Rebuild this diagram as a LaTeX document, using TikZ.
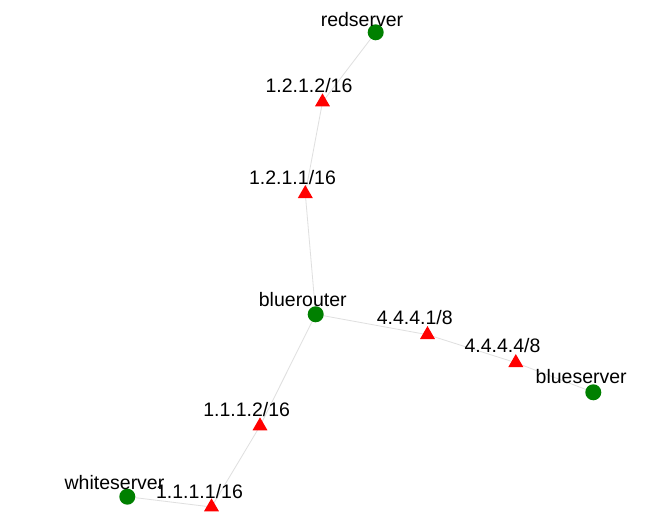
\documentclass[tikz,border=0pt]{standalone}
\usepackage{fontspec}
\setmainfont{Liberation Sans}
\usetikzlibrary{shapes.geometric,backgrounds}

\begin{document}
\begin{tikzpicture}[x=1pt,y=-1pt,
  host/.style={circle,fill=green!50!black,minimum size=16pt,inner sep=0pt},
  iface/.style={regular polygon,regular polygon sides=3,fill=red,minimum size=17.3pt,inner sep=0pt},
  lbl/.style={anchor=base,inner sep=0pt,font=\fontsize{19.5}{22}\selectfont},
  link/.style={draw=gray!25,line width=0.8pt}]

  \useasboundingbox (0,0) rectangle (665,526);

  % hosts
  \node[host] (rs) at (375.7,32.3) {};
  \node[host] (br) at (315.7,314.3) {};
  \node[host] (bs) at (593.3,392.3) {};
  \node[host] (ws) at (127.3,496.7) {};

  % interfaces
  \node[iface] (i1212) at (322.5,102) {};
  \node[iface] (i1211) at (305.3,193.7) {};
  \node[iface] (i1112) at (260,426) {};
  \node[iface] (i1111) at (211.5,507) {};
  \node[iface] (i4441) at (427.5,334.7) {};
  \node[iface] (i4444) at (515.8,362.7) {};

  % links
  \begin{scope}[on background layer]
    \fill[white] (0,0) rectangle (665,526);
    \draw[link] (rs.center) -- (i1212.center) -- (i1211.center) -- (br.center);
    \draw[link] (br.center) -- (i4441.center) -- (i4444.center) -- (bs.center);
    \draw[link] (br.center) -- (i1112.center) -- (i1111.center) -- (ws.center);
  \end{scope}

  % labels
  \node[lbl] (rs-l) at (362,26.7) {redserver};
  \node[lbl] (br-l) at (302.8,306.7) {bluerouter};
  \node[lbl] (bs-l) at (581.2,383.3) {blueserver};
  \node[lbl] (ws-l) at (114.5,490) {whiteserver};
  \node[lbl] (i1212-l) at (309,92.7) {1.2.1.2/16};
  \node[lbl] (i1211-l) at (292.5,185) {1.2.1.1/16};
  \node[lbl] (i1112-l) at (246.7,416.7) {1.1.1.2/16};
  \node[lbl] (i1111-l) at (199.5,498.3) {1.1.1.1/16};
  \node[lbl] (i4441-l) at (414.7,325) {4.4.4.1/8};
  \node[lbl] (i4444-l) at (502.5,352.7) {4.4.4.4/8};
\end{tikzpicture}
\end{document}
